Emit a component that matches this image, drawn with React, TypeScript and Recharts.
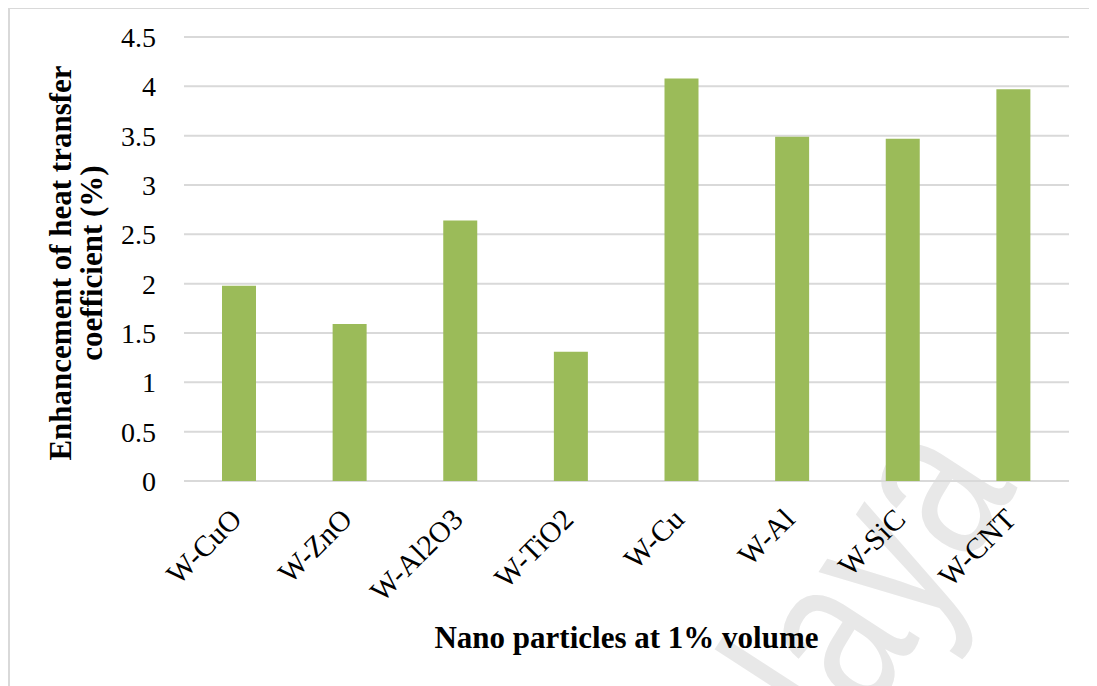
import { BarChart, Bar, XAxis, YAxis, CartesianGrid } from 'recharts';

// Nanofluid heat transfer enhancement at 1% volume fraction
const categories = ['W-CuO', 'W-ZnO', 'W-Al2O3', 'W-TiO2', 'W-Cu', 'W-Al', 'W-SiC', 'W-CNT'];
const enhancement = [1.98, 1.59, 2.64, 1.31, 4.08, 3.49, 3.47, 3.97];
const yTicks = [0, 0.5, 1, 1.5, 2, 2.5, 3, 3.5, 4, 4.5];

const xTitle = 'Nano particles at 1% volume';
const yTitleLines = ['Enhancement of heat transfer', 'coefficient (%)'];

const serif = '"Liberation Serif", "Times New Roman", serif';

const data = categories.map((name, i) => ({ name, value: enhancement[i] }));

function XTick({ x, y, payload }: any) {
  return (
    <text
      transform={`translate(${x + 4},${y + 32}) rotate(-45)`}
      textAnchor="end"
      fontFamily={serif}
      fontSize={29.5}
      fill="#000"
    >
      {payload.value}
    </text>
  );
}

function YTitle() {
  return (
    <text
      transform="translate(63,255) rotate(-90)"
      textAnchor="middle"
      fontFamily={serif}
      fontWeight="bold"
      fontSize={31}
      fill="#000"
    >
      {yTitleLines.map((line, i) => (
        <tspan key={line} x={0} y={i * 31}>
          {line}
        </tspan>
      ))}
    </text>
  );
}

function XTitle() {
  return (
    <text
      x={618.5}
      y={640}
      textAnchor="middle"
      fontFamily={serif}
      fontWeight="bold"
      fontSize={31}
      fill="#000"
    >
      {xTitle}
    </text>
  );
}

export default function App() {
  return (
    <div style={{ position: 'relative', width: 1089, height: 678 }}>
      <style>{'body{overflow:hidden}'}</style>
      {/* frame */}
      <div
        style={{
          position: 'absolute',
          left: 0,
          top: -1,
          width: 1100,
          height: 700,
          border: '2px solid #d9d9d9',
          boxSizing: 'border-box',
        }}
      />
      {/* faint watermark */}
      <svg
        width={1089}
        height={678}
        style={{ position: 'absolute', left: 0, top: 0, pointerEvents: 'none' }}
      >
        <text
          transform="translate(1010,480) rotate(-57) scale(0.85,1.15)"
          textAnchor="end"
          fontFamily='"Liberation Sans", Arial, sans-serif'
          fontSize={200}
          fill="#e8e8e8"
        >
          Malaya
        </text>
      </svg>
      <div style={{ position: 'absolute', left: 0, top: 0 }}>
        <BarChart
          width={1089}
          height={678}
          data={data}
          margin={{ top: 29, right: 28, left: 0, bottom: 0 }}
          barSize={34}
        >
          <CartesianGrid vertical={false} stroke="#d9d9d9" strokeWidth={2} />
          <XAxis
            dataKey="name"
            height={205}
            axisLine={false}
            tickLine={false}
            interval={0}
            tick={<XTick />}
            label={<XTitle />}
          />
          <YAxis
            width={176}
            domain={[0, 4.5]}
            ticks={yTicks}
            interval={0}
            axisLine={false}
            tickLine={false}
            tickSize={0}
            tickMargin={28}
            tick={{ fontFamily: serif, fontSize: 28, fill: '#000' }}
            label={<YTitle />}
          />
          <Bar dataKey="value" fill="#9bbb59" isAnimationActive={false} />
        </BarChart>
      </div>
    </div>
  );
}
